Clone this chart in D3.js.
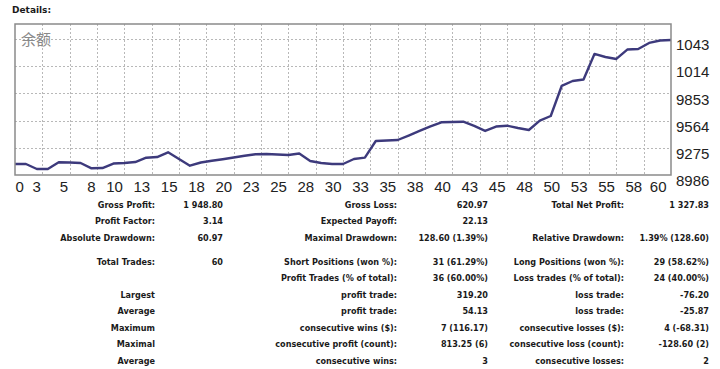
<!DOCTYPE html>
<html>
<head>
<meta charset="utf-8">
<script src="https://cdn.jsdelivr.net/npm/d3@7"></script>
<style>
  html, body { margin: 0; padding: 0; background: #ffffff; }
  svg { display: block; }
</style>
</head>
<body>
<svg id="chart" width="720" height="369"></svg>
<script>
// ---- Data ----
const tradeIndex = d3.range(0, 61);
const balance = [
  9103, 9103, 9050, 9050, 9121, 9119, 9114, 9057, 9060, 9108,
  9114, 9124, 9170, 9177, 9227, 9156, 9085, 9119, 9137, 9154,
  9172, 9190, 9207, 9209, 9204, 9199, 9214, 9135, 9114, 9103,
  9103, 9156, 9170, 9347, 9353, 9358, 9405, 9454, 9502, 9546,
  9549, 9552, 9507, 9454, 9501, 9510, 9485, 9464, 9563, 9613,
  9932, 9985, 10001, 10272, 10240, 10219, 10319, 10325, 10389, 10415,
  10420
];
const xTickValues = [0, 2.5, 5, 7.5, 10, 12.5, 15, 17.5, 20, 22.5, 25, 27.5, 30,
  32.5, 35, 37.5, 40, 42.5, 45, 47.5, 50, 52.5, 55, 57.5, 60];
const xTickLabels = ["0","3","5","8","10","13","15","18","20","23","25","28","30",
  "33","35","38","40","43","45","48","50","53","55","58","60"];
const yTickValues = [8986, 9275, 9564, 9853, 10142, 10431];
const yTickLabels = ["8986", "9275", "9564", "9853", "1014", "1043"];
const chartLabel = "余额";
const pageTitle = "Details:";

// Summary table columns
const col1Labels = ["Gross Profit:", "Profit Factor:", "Absolute Drawdown:", "Total Trades:", "", "Largest", "Average", "Maximum", "Maximal", "Average"];
const col1Values = ["1 948.80", "3.14", "60.97", "60", "", "", "", "", "", ""];
const col2Labels = ["Gross Loss:", "Expected Payoff:", "Maximal Drawdown:", "Short Positions (won %):", "Profit Trades (% of total):", "profit trade:", "profit trade:", "consecutive wins ($):", "consecutive profit (count):", "consecutive wins:"];
const col2Values = ["620.97", "22.13", "128.60 (1.39%)", "31 (61.29%)", "36 (60.00%)", "319.20", "54.13", "7 (116.17)", "813.25 (6)", "3"];
const col3Labels = ["Total Net Profit:", "", "Relative Drawdown:", "Long Positions (won %):", "Loss trades (% of total):", "loss trade:", "loss trade:", "consecutive losses ($):", "consecutive loss (count):", "consecutive losses:"];
const col3Values = ["1 327.83", "", "1.39% (128.60)", "29 (58.62%)", "24 (40.00%)", "-76.20", "-25.87", "4 (-68.31)", "-128.60 (2)", "2"];

// ---- Layout ----
const svg = d3.select("#chart");
const plot = { left: 15, right: 671, top: 24, bottom: 175 };

const x = d3.scaleLinear().domain([0, 60]).range([plot.left, plot.right]);
const y = d3.scaleLinear().domain([8986, 10431]).range([plot.bottom, 39]);

// Title
svg.append("text")
  .attr("x", 12).attr("y", 13)
  .attr("font-family", "'DejaVu Sans', sans-serif")
  .attr("font-weight", "bold").attr("font-size", 9)
  .attr("fill", "#1a1a1a")
  .text(pageTitle);

// Plot background
svg.append("rect")
  .attr("x", plot.left).attr("y", plot.top)
  .attr("width", plot.right - plot.left).attr("height", plot.bottom - plot.top)
  .attr("fill", "#ffffff");

// Grid
const grid = svg.append("g").attr("stroke", "#b8b8b8").attr("stroke-width", 1).attr("stroke-dasharray", "2,2");
grid.selectAll("line.v").data(xTickValues.slice(1, -1)).join("line")
  .attr("x1", d => Math.round(x(d)) + 0.5).attr("x2", d => Math.round(x(d)) + 0.5)
  .attr("y1", plot.top).attr("y2", plot.bottom);
grid.selectAll("line.h").data(yTickValues.slice(1)).join("line")
  .attr("y1", d => Math.round(y(d)) + 0.5).attr("y2", d => Math.round(y(d)) + 0.5)
  .attr("x1", plot.left).attr("x2", plot.right);

// Chart label
svg.append("text")
  .attr("x", 21).attr("y", 45)
  .attr("font-family", "'Noto Sans CJK SC', sans-serif")
  .attr("font-size", 15).attr("fill", "#8a8a8a")
  .text(chartLabel);

// Balance line
const line = d3.line().x((d, i) => x(tradeIndex[i])).y(d => y(d));
svg.append("path")
  .datum(balance)
  .attr("d", line)
  .attr("fill", "none")
  .attr("stroke", "#3d3a7c")
  .attr("stroke-width", 2.4)
  .attr("stroke-linejoin", "round");

// Frame
svg.append("rect")
  .attr("x", plot.left).attr("y", plot.top)
  .attr("width", plot.right - plot.left).attr("height", plot.bottom - plot.top)
  .attr("fill", "none").attr("stroke", "#8a8a8a").attr("stroke-width", 1.5);

// Axes
const axisFont = "'Liberation Sans', Arial, sans-serif";
const yAxis = d3.axisRight(y)
  .tickValues(yTickValues)
  .tickFormat((d, i) => yTickLabels[i])
  .tickSize(0).tickPadding(5);
const gy = svg.append("g").attr("transform", `translate(${plot.right},0)`).call(yAxis);
gy.select(".domain").remove();
gy.selectAll("text")
  .attr("font-family", axisFont).attr("font-size", 15).attr("fill", "#222")
  .attr("dy", "0.71em");

const xAxis = d3.axisBottom(x)
  .tickValues(xTickValues)
  .tickFormat((d, i) => xTickLabels[i])
  .tickSize(0).tickPadding(6);
const gx = svg.append("g").attr("transform", `translate(0,${plot.bottom})`).call(xAxis);
gx.select(".domain").remove();
gx.selectAll("text")
  .attr("font-family", axisFont).attr("font-size", 15).attr("fill", "#222")
  .attr("text-anchor", (d, i) => i === 0 ? "start" : "end")
  .attr("dx", (d, i) => i === 0 ? 0 : (i === xTickValues.length - 1 ? -5 : -2));

// Summary table
const rowY = [204.5, 221, 237.5, 261.5, 278, 294.5, 311, 327.5, 344, 360.5];
const colRight = [155, 223, 397, 488, 624, 709];
const columns = [col1Labels, col1Values, col2Labels, col2Values, col3Labels, col3Values];
const tableFont = "'DejaVu Sans Condensed', 'DejaVu Sans', sans-serif";
const tg = svg.append("g")
  .attr("font-family", tableFont)
  .attr("font-weight", "bold")
  .attr("font-size", 9)
  .attr("fill", "#1a1a1a")
  .attr("text-anchor", "end");
columns.forEach((col, ci) => {
  tg.selectAll(null).data(col).join("text")
    .attr("x", colRight[ci])
    .attr("y", (d, i) => rowY[i])
    .attr("dy", "0.36em")
    .text(d => d);
});
</script>
</body>
</html>
